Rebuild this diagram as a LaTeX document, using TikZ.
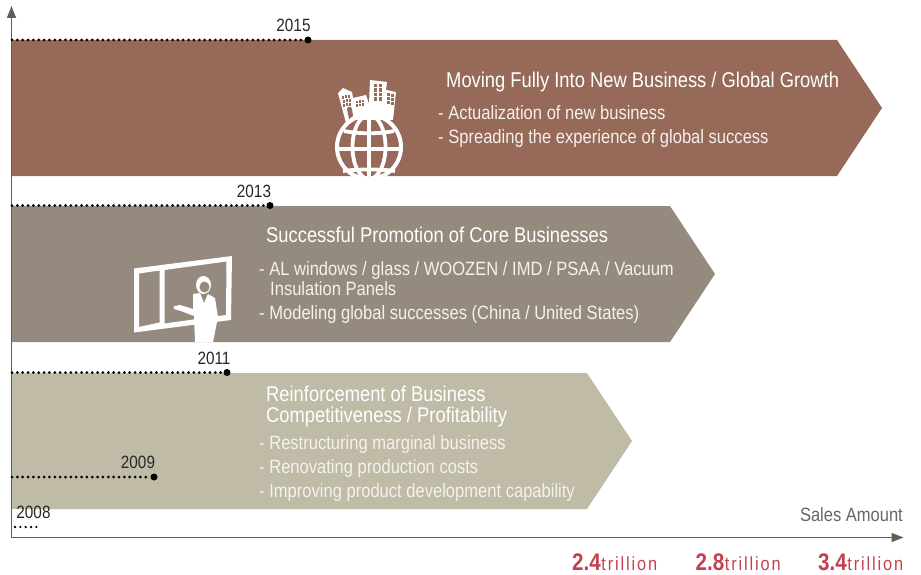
\documentclass[tikz,border=0pt]{standalone}
\usepackage{fontspec}
\setmainfont[FakeStretch=0.86]{Liberation Sans}
\usetikzlibrary{arrows.meta}
\definecolor{cbrown}{HTML}{966958}
\definecolor{cgrey}{HTML}{958A7E}
\definecolor{ctan}{HTML}{BFBBA7}
\definecolor{caxis}{HTML}{675C50}
\definecolor{cred}{HTML}{C4404F}
\definecolor{ctxt}{HTML}{F5F1EC}
\tikzset{
 x=1pt,y=-1pt,
 title/.style={anchor=base west,inner sep=0pt,font=\fontsize{21.35}{22}\selectfont,text=white},
 body/.style={anchor=base west,inner sep=0pt,font=\fontsize{19.25}{20}\selectfont,text=ctxt},
 yr/.style={anchor=base,inner sep=0pt,font=\fontsize{17.8}{18}\selectfont,text=black!85},
 enddot/.style={circle,fill=black,inner sep=0pt,minimum size=7pt},
 dotline/.style={line width=3pt,line cap=round,dash pattern=on 0pt off 5.35pt,black},
 axisline/.style={line width=1.4pt,caxis,-{Triangle[length=12pt,width=9pt]}},
 big/.style={anchor=base east,inner sep=0pt,text=cred},
}
\begin{document}
\begin{tikzpicture}
\useasboundingbox (0,0) rectangle (921,575);
% bands
\fill[cbrown] (12,40) -- (837,40) -- (882,108) -- (837,176) -- (12,176) -- cycle;
\fill[cgrey] (12,206) -- (670,206) -- (715,274) -- (670,342) -- (12,342) -- cycle;
\fill[ctan] (12,373) -- (587,373) -- (632,441) -- (587,509) -- (12,509) -- cycle;
% axes
\coordinate (origin) at (11.5,537.5);
\coordinate (ytop) at (11.5,6);
\coordinate (xend) at (903.5,537.5);
\draw[axisline] (origin) -- (ytop);
\draw[axisline] (origin) -- (xend);
% year markers
\foreach \nm/\xx/\yy/\lab/\lx/\ly in {a/308/40/2015/293.5/32, b/270/205.5/2013/254/197, c/227/372.5/2011/214/364, d/154/477/2009/138/468}{
 \coordinate (s\nm) at (12,\yy);
 \node[enddot] (e\nm) at (\xx,\yy) {};
 \draw[dotline] (s\nm) -- (e\nm);
 \node[yr] (y\nm) at (\lx,\ly) {\lab};
}
\coordinate (s2008) at (15,527);
\coordinate (e2008) at (37,527);
\draw[dotline,line width=2.6pt] (s2008) -- (e2008);
\node[yr] (y2008) at (33.5,518) {2008};
% text band 1
\node[title] (t1) at (446,87.7) {Moving Fully Into New Business / Global Growth};
\node[body] (t1a) at (438,119.2) {- Actualization of new business};
\node[body] (t1b) at (438,143.2) {- Spreading the experience of global success};
% text band 2
\node[title] (t2) at (266,242.7) {Successful Promotion of Core Businesses};
\node[body] (t2a) at (259,275.2) {- AL windows / glass / WOOZEN / IMD / PSAA / Vacuum};
\node[body] (t2b) at (270,295.7) {Insulation Panels};
\node[body] (t2c) at (259,319.7) {- Modeling global successes (China / United States)};
% text band 3
\node[title] (t3) at (266,401.2) {Reinforcement of Business};
\node[title] (t3b) at (266,422.2) {Competitiveness / Profitability};
\node[body] (t3c) at (259,449.2) {- Restructuring marginal business};
\node[body] (t3d) at (259,473.2) {- Renovating production costs};
\node[body] (t3e) at (259,497.2) {- Improving product development capability};
% axis labels
\node[anchor=base east,inner sep=0pt,font=\fontsize{19.2}{20}\selectfont,text=black!60] (sa) at (903,521.7) {Sales Amount};
\foreach \nm/\xr/\v in {p/657.5/2.4,q/781/2.8,r/903.5/3.4}{
 \node[big,font=\fontsize{19}{20}\selectfont] (l\nm) at (\xr,570.5) {\addfontfeature{LetterSpace=10}trillion};
 \node[big,font=\bfseries\fontsize{24}{24}\selectfont] (v\nm) at (l\nm.base west) {\v};
}
% globe icon
\begin{scope}
\clip (300,60) rectangle (430,176);
\draw[white,line width=4pt] (369,147) circle[radius=32];
\draw[white,line width=3.8pt] (369,147) ellipse[x radius=16.5,y radius=32];
\draw[white,line width=3.8pt] (369,113) -- (369,176);
\draw[white,line width=3.8pt] (337,149) -- (401,149);
\draw[white,line width=3.8pt] (344,131) .. controls (358,134) and (380,134) .. (394,131);
\draw[white,line width=3.8pt] (343,171) .. controls (358,169) and (380,169) .. (395,171);
\end{scope}
% buildings
\fill[white] (338,93) -- (343,88) -- (352,92) -- (353,98) -- (366,95) -- (369,104) -- (370,80) -- (387,82) -- (386,90) -- (396,92) -- (393,120) -- (385,120) -- (353,120) -- (346,123) -- cycle;
\foreach \bx/\by in {342/96,345/95.5,348/95,342.5/100,345.5/99.5,348.5/99,343/104,346/103.5,349/103}{\fill[cbrown] (\bx,\by) rectangle ++(2.1,2.6);}
\fill[cbrown] (347,109) .. controls (348,106) and (351,106) .. (352,109) -- (353,116) -- (349,119) -- cycle;
\foreach \bx/\by in {355.5/101,358.5/100.5,361.5/100,355.5/104.5,358.5/104,361.5/103.5}{\fill[cbrown] (\bx,\by) rectangle ++(2.2,2.2);}
\foreach \bx/\by in {374/84,378.5/84,374/88.5,378.5/88.5,374/93,378.5/93,374/97.5,378.5/97.5}{\fill[cbrown] (\bx,\by) rectangle ++(3.4,3.4);}
\foreach \bx/\by in {387/93.5,391/94,387/97.5,391/98,387/101.5,391/102}{\fill[cbrown] (\bx,\by) rectangle ++(2.8,2.6);}
% window and presenter icon
\begin{scope}
\clip (120,245) rectangle (250,342);
\fill[white,even odd rule] (134,268.5) -- (232,256) -- (231,320) -- (134,332.5) -- cycle
 (139,273.5) -- (159.5,270.5) -- (159.5,322.5) -- (139,327) -- cycle
 (164.5,270) -- (226.5,261.5) -- (226,315) -- (164.5,323.5) -- cycle;
\fill[white] (193,294) -- (200,293) -- (204,303) -- (208,294) -- (215,298) -- (218,317) -- (213,342) -- (195,342) -- (194,316) -- (181,311) -- (174,309) -- (173.5,306.5) -- (180,305) -- (193,309) -- cycle;
\fill[white] (203.5,285) ellipse[x radius=7.5,y radius=9];
\fill[cgrey] (204.5,287) ellipse[x radius=5,y radius=5.5];
\end{scope}
\end{tikzpicture}
\end{document}
